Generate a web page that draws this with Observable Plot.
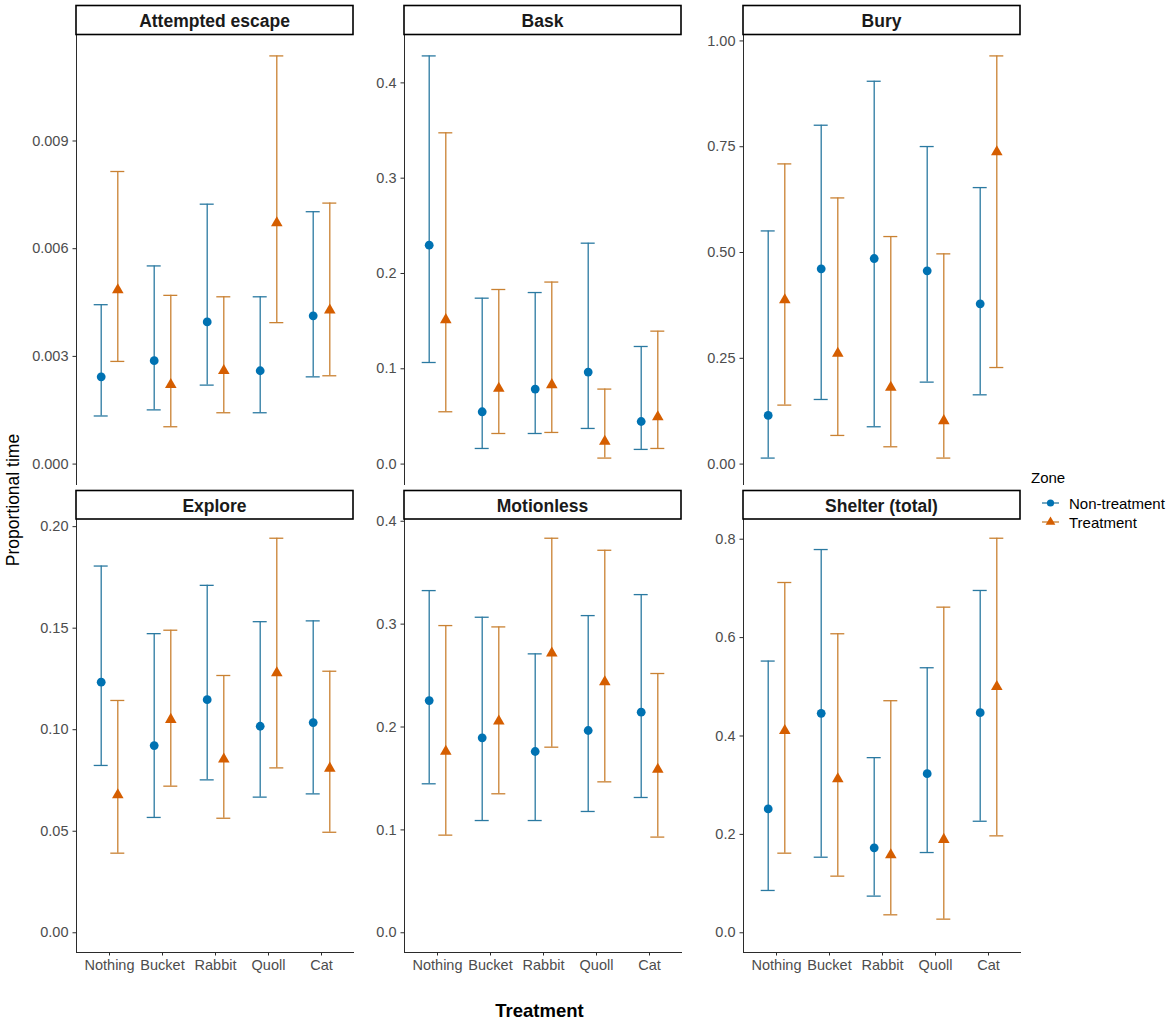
<!DOCTYPE html>
<html>
<head>
<meta charset="utf-8">
<script src="https://cdn.jsdelivr.net/npm/d3@7"></script>
<script src="https://cdn.jsdelivr.net/npm/@observablehq/plot@0.6"></script>
<style>
  body { margin: 0; background: #fff; }
  #chart { position: relative; width: 1167px; height: 1020px; background: #fff; overflow: hidden;
           font-family: "Liberation Sans", Arial, sans-serif; }
  .panel { position: absolute; }
  .panel svg { overflow: visible; }
  .panel svg text { fill: #4d4d4d; }
  #overlay { position: absolute; left: 0; top: 0; pointer-events: none; }
</style>
</head>
<body>
<div id="chart"></div>
<script>
// ---------- data ----------
const treatments = ["Nothing", "Bucket", "Rabbit", "Quoll", "Cat"];
const zones = ["Non-treatment", "Treatment"];
const behaviours = ["Attempted escape", "Bask", "Bury", "Explore", "Motionless", "Shelter (total)"];

// Attempted escape
const escapeNTfit = [0.00243, 0.00288, 0.00396, 0.00260, 0.00413];
const escapeNTlow = [0.00134, 0.00151, 0.00220, 0.00143, 0.00243];
const escapeNTup  = [0.00444, 0.00552, 0.00724, 0.00466, 0.00703];
const escapeTfit  = [0.00485, 0.00221, 0.00260, 0.00672, 0.00429];
const escapeTlow  = [0.00286, 0.00104, 0.00143, 0.00394, 0.00246];
const escapeTup   = [0.00815, 0.00470, 0.00466, 0.01137, 0.00727];
const escapeTicks = [0, 0.003, 0.006, 0.009];

// Bask
const baskNTfit = [0.2297, 0.0549, 0.0787, 0.0965, 0.0447];
const baskNTlow = [0.1066, 0.0164, 0.0321, 0.0374, 0.0154];
const baskNTup  = [0.4283, 0.1741, 0.1800, 0.2318, 0.1234];
const baskTfit  = [0.1514, 0.0793, 0.0832, 0.0238, 0.0496];
const baskTlow  = [0.0549, 0.0321, 0.0332, 0.0063, 0.0164];
const baskTup   = [0.3476, 0.1832, 0.1910, 0.0787, 0.1395];
const baskTicks = [0, 0.1, 0.2, 0.3, 0.4];

// Bury
const buryNTfit = [0.1149, 0.4614, 0.4858, 0.4567, 0.3787];
const buryNTlow = [0.0142, 0.1527, 0.0882, 0.1937, 0.1637];
const buryNTup  = [0.5510, 0.8008, 0.9047, 0.7504, 0.6534];
const buryTfit  = [0.3880, 0.2613, 0.1810, 0.1023, 0.7378];
const buryTlow  = [0.1394, 0.0677, 0.0409, 0.0142, 0.2282];
const buryTup   = [0.7094, 0.6290, 0.5377, 0.4968, 0.9646];
const buryTicks = [0, 0.25, 0.5, 0.75, 1];

// Explore
const exploreNTfit = [0.1234, 0.0922, 0.1148, 0.1017, 0.1035];
const exploreNTlow = [0.0824, 0.0568, 0.0753, 0.0668, 0.0684];
const exploreNTup  = [0.1806, 0.1473, 0.1711, 0.1532, 0.1536];
const exploreTfit  = [0.0679, 0.1050, 0.0855, 0.1280, 0.0810];
const exploreTlow  = [0.0392, 0.0722, 0.0564, 0.0812, 0.0495];
const exploreTup   = [0.1144, 0.1490, 0.1267, 0.1943, 0.1288];
const exploreTicks = [0, 0.05, 0.1, 0.15, 0.2];

// Motionless
const motionNTfit = [0.2257, 0.1895, 0.1762, 0.1966, 0.2144];
const motionNTlow = [0.1448, 0.1091, 0.1091, 0.1179, 0.1315];
const motionNTup  = [0.3326, 0.3067, 0.2711, 0.3083, 0.3287];
const motionTfit  = [0.1762, 0.2057, 0.2717, 0.2439, 0.1587];
const motionTlow  = [0.0949, 0.1351, 0.1804, 0.1467, 0.0930];
const motionTup   = [0.2986, 0.2973, 0.3835, 0.3718, 0.2520];
const motionTicks = [0, 0.1, 0.2, 0.3, 0.4];

// Shelter (total)
const shelterNTfit = [0.2518, 0.4460, 0.1726, 0.3235, 0.4474];
const shelterNTlow = [0.0860, 0.1536, 0.0745, 0.1631, 0.2267];
const shelterNTup  = [0.5523, 0.7790, 0.3560, 0.5387, 0.6958];
const shelterTfit  = [0.4108, 0.3127, 0.1584, 0.1895, 0.5002];
const shelterTlow  = [0.1618, 0.1151, 0.0365, 0.0277, 0.1970];
const shelterTup   = [0.7120, 0.6078, 0.4717, 0.6619, 0.8020];
const shelterTicks = [0, 0.2, 0.4, 0.6, 0.8];

// ---------- styling ----------
const pointColors = ["#0072B2", "#D55E00"];
const barColors = ["#2a79a1", "#c98132"];
const symbols = ["circle", "triangle"];
const dotR = [4.4, 4.3];
const DODGE = 8.3;   // px offset for dodged zones

const panelDefs = [
  {nt: [escapeNTfit, escapeNTlow, escapeNTup], t: [escapeTfit, escapeTlow, escapeTup], ticks: escapeTicks, fmt: ".3f"},
  {nt: [baskNTfit, baskNTlow, baskNTup], t: [baskTfit, baskTlow, baskTup], ticks: baskTicks, fmt: ".1f"},
  {nt: [buryNTfit, buryNTlow, buryNTup], t: [buryTfit, buryTlow, buryTup], ticks: buryTicks, fmt: ".2f"},
  {nt: [exploreNTfit, exploreNTlow, exploreNTup], t: [exploreTfit, exploreTlow, exploreTup], ticks: exploreTicks, fmt: ".2f"},
  {nt: [motionNTfit, motionNTlow, motionNTup], t: [motionTfit, motionTlow, motionTup], ticks: motionTicks, fmt: ".1f"},
  {nt: [shelterNTfit, shelterNTlow, shelterNTup], t: [shelterTfit, shelterTlow, shelterTup], ticks: shelterTicks, fmt: ".1f"}
];

// layout (ggplot-like facet grid)
const colLeft = [76, 404, 743];
const PANEL_W = 277;
const rowTop = [34.5, 518];
const rowH = [449, 434];
const stripTop = [5.5, 490.5];
const stripH = [29, 28.5];
const ML = 60;

const chart = document.getElementById("chart");

function rowsFor(arrs, zone) {
  return treatments.map((tr, k) => ({treatment: tr, zone, fit: arrs[0][k], low: arrs[1][k], up: arrs[2][k]}));
}

panelDefs.forEach((p, i) => {
  const col = i % 3, row = Math.floor(i / 3);
  const isBottom = row === 1;
  const series = [rowsFor(p.nt, zones[0]), rowsFor(p.t, zones[1])];
  const maxV = d3.max(series.flat(), d => Math.max(d.up, d.fit));
  const minV = Math.min(0, d3.min(series.flat(), d => d.low));
  const pad = (maxV - minV) * 0.05;
  const MB = isBottom ? 34 : 0;

  const marks = [];
  series.forEach((data, z) => {
    const dx = z === 0 ? -DODGE : DODGE;
    marks.push(
      Plot.ruleX(data, {x: "treatment", y1: "low", y2: "up", stroke: barColors[z], strokeWidth: 1.3, dx}),
      Plot.tickY(data, {x: "treatment", y: "low", stroke: barColors[z], strokeWidth: 1.3, dx}),
      Plot.tickY(data, {x: "treatment", y: "up", stroke: barColors[z], strokeWidth: 1.3, dx})
    );
  });
  series.forEach((data, z) => {
    const dx = z === 0 ? -DODGE : DODGE;
    marks.push(Plot.dot(data, {x: "treatment", y: "fit", fill: pointColors[z], symbol: symbols[z], r: dotR[z], dx}));
  });

  const svg = Plot.plot({
    width: PANEL_W + ML,
    height: rowH[row] + MB,
    marginLeft: ML, marginRight: 0, marginTop: 0, marginBottom: MB,
    style: {fontSize: "14.5px", fontFamily: "'Liberation Sans', Arial, sans-serif", color: "#2b2b2b", background: "transparent", overflow: "visible"},
    x: {type: "band", domain: treatments, paddingInner: 0.74, paddingOuter: 0.47, axis: isBottom ? "bottom" : null,
        tickSize: 3.5, tickPadding: 4, label: null, line: true},
    y: {domain: [minV - pad, maxV + pad], ticks: p.ticks, tickFormat: d3.format(p.fmt),
        tickSize: 3.5, tickPadding: 4.5, label: null, line: true},
    marks
  });
  const div = document.createElement("div");
  div.className = "panel";
  div.style.left = (colLeft[col] - ML) + "px";
  div.style.top = rowTop[row] + "px";
  div.appendChild(svg);
  chart.appendChild(div);
});

// ---------- overlay: strips, axis titles, legend ----------
const overlay = d3.select(chart).append("svg")
  .attr("id", "overlay").attr("width", 1167).attr("height", 1020)
  .style("font-family", "'Liberation Sans', Arial, sans-serif");

behaviours.forEach((name, i) => {
  const col = i % 3, row = Math.floor(i / 3);
  const g = overlay.append("g");
  g.append("rect")
    .attr("x", colLeft[col]).attr("y", stripTop[row])
    .attr("width", PANEL_W).attr("height", stripH[row])
    .attr("fill", "#fff").attr("stroke", "#000").attr("stroke-width", 1.6);
  g.append("text")
    .attr("x", colLeft[col] + PANEL_W / 2).attr("y", stripTop[row] + stripH[row] / 2 + 1)
    .attr("text-anchor", "middle").attr("dominant-baseline", "central")
    .attr("font-size", 17.5).attr("font-weight", "bold").attr("fill", "#1a1a1a")
    .text(name);
});

overlay.append("text")
  .attr("x", 539.5).attr("y", 1016.5)
  .attr("text-anchor", "middle").attr("font-size", 18.5).attr("font-weight", "bold").attr("fill", "#000")
  .text("Treatment");

overlay.append("text")
  .attr("transform", "translate(18.5,500) rotate(-90)")
  .attr("text-anchor", "middle").attr("font-size", 17.5).attr("fill", "#000")
  .text("Proportional time");

// legend
overlay.append("text")
  .attr("x", 1031).attr("y", 477).attr("dominant-baseline", "central")
  .attr("font-size", 15).attr("fill", "#000").text("Zone");
const legendY = [503, 522];
zones.forEach((z, k) => {
  const g = overlay.append("g");
  g.append("line").attr("x1", 1042).attr("x2", 1059).attr("y1", legendY[k]).attr("y2", legendY[k])
    .attr("stroke", barColors[k]).attr("stroke-width", 1.3);
  const sym = k === 0 ? d3.symbolCircle : d3.symbolTriangle;
  g.append("path").attr("d", d3.symbol(sym, Math.PI * 3.6 * 3.6)())
    .attr("transform", `translate(1050.5,${legendY[k]})`).attr("fill", pointColors[k]);
  g.append("text").attr("x", 1069).attr("y", legendY[k]).attr("dominant-baseline", "central")
    .attr("font-size", 15).attr("fill", "#000").text(z);
});
</script>
</body>
</html>
